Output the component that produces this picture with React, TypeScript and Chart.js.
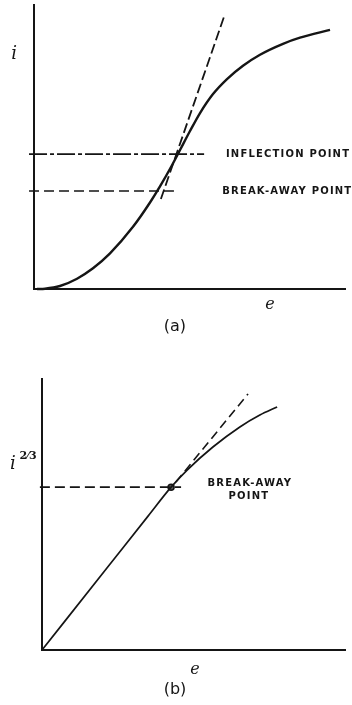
import React, { useEffect, useRef } from "react";
import { Chart, registerables } from "chart.js";

Chart.register(...registerables);

// ---- (a) current i against voltage e ----
const curveA_e = [0.96, 3.54, 8.36, 13.83, 18.97, 24.44, 31.83, 37.3, 40.51, 44.37, 46.95, 50.16, 53.38, 57.56, 62.06, 67.2, 72.67, 80.06, 85.53, 95.18];
const curveA_i = [0, 0.11, 1.06, 3.63, 7.29, 12.54, 21.9, 30.46, 36.13, 43.59, 48.94, 55.63, 61.97, 68.66, 73.94, 78.63, 82.5, 86.34, 88.49, 91.23];
const tangentA_e = [40.8, 61.4];
const tangentA_i = [31.7, 96.8];
const inflectionA_e = [-1.6, 54.7];
const inflectionA_i = 47.5;
const breakAwayA_e = [-1.6, 45.0];
const breakAwayA_i = 34.5;

// ---- (b) i^(2/3) against voltage e ----
const curveB_e = [0, 21.3, 35.0, 42.6, 47.9, 56.4, 65.3, 71.9, 77.6];
const curveB_i = [0, 30.05, 49.4, 60.1, 66.4, 74.9, 82.3, 86.7, 89.7];
const tangentB_e = [44.2, 68.0];
const tangentB_i = [62.0, 94.5];
const breakAwayB_e = [-0.7, 45.9];
const breakAwayB_i = 60.1;
const breakPointB = { e: 42.6, i: 60.1 };

const INK = "#151515";

type Label = {
  text: string;
  e: number;
  i: number;
  font: string;
  align: CanvasTextAlign;
  spacing?: number;
};

const labelsA: Label[] = [
  { text: "INFLECTION POINT", e: 61.7, i: 47.5, font: "bold 10px 'DejaVu Sans'", align: "left", spacing: 1.2 },
  { text: "BREAK-AWAY POINT", e: 60.5, i: 34.5, font: "bold 10px 'DejaVu Sans'", align: "left", spacing: 1.2 },
  { text: "i", e: -6.4, i: 82.7, font: "italic 18px 'DejaVu Serif'", align: "center" },
  { text: "e", e: 75.9, i: -5.6, font: "italic 16px 'DejaVu Serif'", align: "center" },
  { text: "(a)", e: 45.3, i: -13.4, font: "16px 'DejaVu Sans'", align: "center" },
];

const labelsB: Label[] = [
  { text: "BREAK-AWAY", e: 68.6, i: 61.3, font: "bold 10px 'DejaVu Sans'", align: "center", spacing: 1.2 },
  { text: "POINT", e: 68.3, i: 56.5, font: "bold 10px 'DejaVu Sans'", align: "center", spacing: 1.2 },
  { text: "i", e: -9.6, i: 68.6, font: "italic 18px 'DejaVu Serif'", align: "center" },
  { text: "2⁄3", e: -4.6, i: 71.4, font: "bold 11px 'DejaVu Serif'", align: "center" },
  { text: "e", e: 50.5, i: -7.4, font: "italic 16px 'DejaVu Serif'", align: "center" },
  { text: "(b)", e: 43.9, i: -14.8, font: "16px 'DejaVu Sans'", align: "center" },
];

const pts = (xs: number[], ys: number[]) => xs.map((x, k) => ({ x, y: ys[k] }));
const hLine = (xs: number[], level: number) => xs.map((x) => ({ x, y: level }));

// Draws the annotation text at data coordinates of the chart's scales.
const textPlugin = {
  id: "annotText",
  afterDraw(chart: any, _args: any, opts: any) {
    const { ctx, scales } = chart;
    const labels: Label[] = opts.labels || [];
    ctx.save();
    ctx.fillStyle = INK;
    ctx.textBaseline = "middle";
    for (const l of labels) {
      ctx.font = l.font;
      ctx.textAlign = l.align;
      (ctx as any).letterSpacing = `${l.spacing || 0}px`;
      const px = scales.x.getPixelForValue(l.e);
      const py = scales.y.getPixelForValue(l.i);
      ctx.fillText(l.text, px, py);
    }
    ctx.restore();
  },
};

function axis(min: number, max: number, horizontal: boolean) {
  return {
    type: "linear" as const,
    min,
    max,
    grid: { display: false, drawTicks: false },
    ticks: { display: false },
    border: { display: true, color: INK, width: 2 },
    afterFit(scale: any) {
      if (horizontal) scale.height = 0;
      else scale.width = 0;
    },
  };
}

function build(canvas: HTMLCanvasElement, datasets: any[], padding: any, labels: Label[]) {
  return new Chart(canvas, {
    type: "line",
    data: { datasets },
    options: {
      responsive: false,
      animation: false,
      devicePixelRatio: 1,
      layout: { padding },
      scales: { x: axis(0, 100, true), y: axis(0, 100, false) },
      plugins: {
        legend: { display: false },
        tooltip: { enabled: false },
        annotText: { labels },
      } as any,
      elements: { point: { radius: 0 } },
    },
    plugins: [textPlugin],
  });
}

const lineStyle = (data: any[], width: number, dash: number[] = [], smooth = false) => ({
  data,
  borderColor: INK,
  borderWidth: width,
  borderDash: dash,
  cubicInterpolationMode: smooth ? ("monotone" as const) : ("default" as const),
  tension: 0,
  pointRadius: 0,
  fill: false,
  clip: false as any,
});

export default function App() {
  const refA = useRef<HTMLCanvasElement>(null);
  const refB = useRef<HTMLCanvasElement>(null);

  useEffect(() => {
    const chartA = build(
      refA.current!,
      [
        lineStyle(pts(curveA_e, curveA_i), 2.4, [], true),
        lineStyle(pts(tangentA_e, tangentA_i), 1.8, [10, 4]),
        lineStyle(hLine(inflectionA_e, inflectionA_i), 1.6, [18, 3, 4, 3]),
        lineStyle(hLine(breakAwayA_e, breakAwayA_i), 1.6, [10, 5]),
      ],
      { left: 34, top: 5, right: 7, bottom: 56 },
      labelsA
    );
    const chartB = build(
      refB.current!,
      [
        lineStyle(pts(curveB_e, curveB_i), 1.7, [], true),
        lineStyle(pts(tangentB_e, tangentB_i), 1.6, [9, 5]),
        lineStyle(hLine(breakAwayB_e, breakAwayB_i), 1.6, [10, 5]),
        {
          type: "scatter",
          data: [{ x: breakPointB.e, y: breakPointB.i }],
          pointRadius: 3,
          borderColor: INK,
          borderWidth: 1.5,
          backgroundColor: "#555",
          showLine: false,
          clip: false,
        },
      ],
      { left: 42, top: 34, right: 7, bottom: 55 },
      labelsB
    );
    return () => {
      chartA.destroy();
      chartB.destroy();
    };
  }, []);

  return (
    <div style={{ position: "fixed", left: 0, top: 0, width: 352, height: 705, background: "#fff" }}>
      <canvas ref={refA} width={352} height={345} style={{ display: "block", width: 352, height: 345 }} />
      <canvas ref={refB} width={352} height={360} style={{ display: "block", width: 352, height: 360 }} />
    </div>
  );
}
